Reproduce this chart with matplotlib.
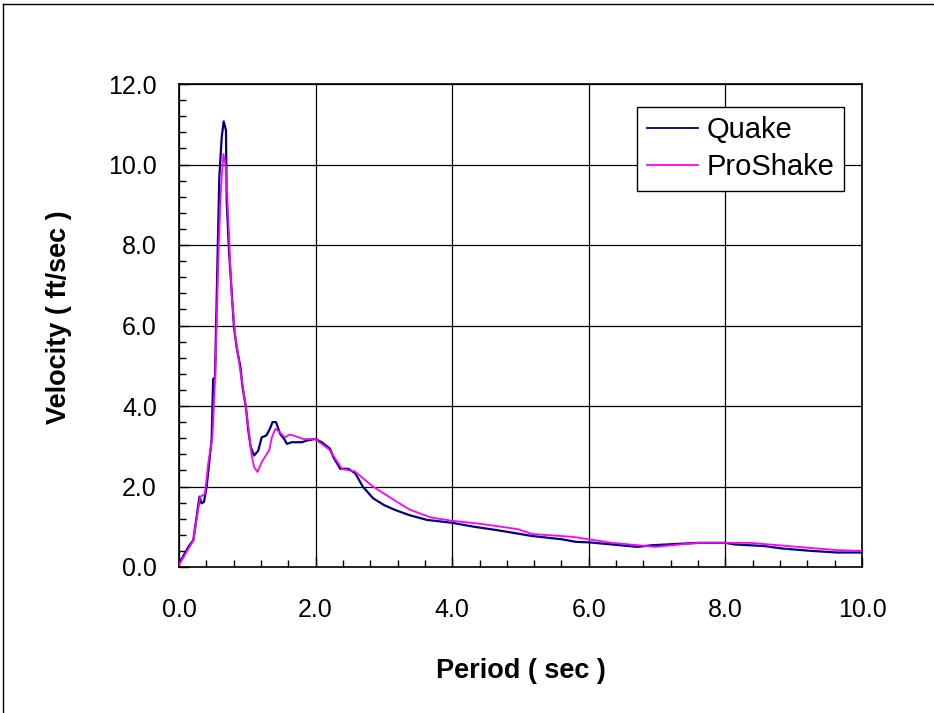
import matplotlib
matplotlib.use("Agg")
import matplotlib.pyplot as plt
from matplotlib.ticker import MultipleLocator, FormatStrFormatter
from matplotlib.lines import Line2D

plt.rcParams['font.family'] = ['Liberation Sans', 'DejaVu Sans']

quake_period = [0.0, 0.137, 0.21, 0.30, 0.33, 0.366, 0.405, 0.478, 0.50, 0.527, 0.551, 0.59, 0.625,
                0.654, 0.688, 0.698, 0.732, 0.805, 0.844, 0.90, 0.93, 0.98, 1.015, 1.05, 1.10,
                1.16, 1.21, 1.28, 1.33, 1.37, 1.42, 1.48, 1.54, 1.58, 1.65, 1.80, 1.87, 1.99,
                2.09, 2.21, 2.26, 2.36, 2.48, 2.58, 2.69, 2.84, 3.0, 3.16, 3.37, 3.63, 3.99,
                4.32, 4.64, 4.96, 5.17, 5.60, 5.81, 6.02, 6.34, 6.71, 6.92, 7.37, 7.61, 8.0,
                8.14, 8.57, 8.83, 9.26, 9.63, 10.0]
quake_vel = [0.08, 0.5, 0.67, 1.75, 1.58, 1.62, 2.0, 3.17, 4.67, 4.71, 6.62, 9.68, 10.67,
             11.07, 10.85, 9.1, 7.86, 5.96, 5.46, 4.96, 4.47, 3.97, 3.39, 2.98, 2.77,
             2.89, 3.22, 3.27, 3.43, 3.6, 3.6, 3.31, 3.18, 3.06, 3.10, 3.10, 3.14, 3.18,
             3.10, 2.94, 2.73, 2.44, 2.44, 2.33, 2.0, 1.71, 1.54, 1.42, 1.29, 1.17, 1.10,
             1.0, 0.92, 0.83, 0.77, 0.69, 0.625, 0.61, 0.56, 0.50, 0.54, 0.58, 0.60, 0.60,
             0.56, 0.52, 0.46, 0.40, 0.36, 0.36]

proshake_period = [0.0, 0.21, 0.31, 0.38, 0.43, 0.49, 0.53, 0.58, 0.615, 0.65, 0.688, 0.72,
                   0.77, 0.82, 0.89, 0.966, 1.015, 1.06, 1.10, 1.15, 1.21, 1.32, 1.36, 1.41,
                   1.45, 1.55, 1.62, 1.67, 1.82, 1.99, 2.20, 2.39, 2.57, 2.84, 3.05, 3.37,
                   3.69, 3.99, 4.43, 4.96, 5.17, 5.76, 6.34, 6.98, 7.40, 7.61, 8.36, 8.78,
                   9.20, 9.63, 10.0]
proshake_vel = [0.05, 0.66, 1.74, 1.82, 2.6, 3.23, 4.71, 7.86, 9.43, 10.26, 9.93, 8.69,
                6.78, 5.79, 4.96, 4.14, 3.47, 2.81, 2.48, 2.36, 2.6, 2.90, 3.22, 3.43,
                3.39, 3.22, 3.29, 3.27, 3.18, 3.18, 2.92, 2.43, 2.38, 2.0, 1.77, 1.43,
                1.23, 1.15, 1.07, 0.94, 0.82, 0.75, 0.60, 0.50, 0.57, 0.60, 0.60, 0.54,
                0.48, 0.42, 0.40]

x_label = "Period ( sec )"
y_label = "Velocity ( ft/sec )"

fig = plt.figure(figsize=(9.34, 7.13), dpi=100)
ax = fig.add_axes([179/934, 1-567/713, 683/934, 483/713])

ax.plot(quake_period, quake_vel, color='#000080', lw=1.6, label='Quake', zorder=3)
ax.plot(proshake_period, proshake_vel, color='#FF00FF', lw=1.3, label='ProShake', zorder=4)

ax.set_xlim(0, 10)
ax.set_ylim(0, 12)
ax.xaxis.set_major_locator(MultipleLocator(2))
ax.yaxis.set_major_locator(MultipleLocator(2))
ax.xaxis.set_minor_locator(MultipleLocator(0.4))
ax.yaxis.set_minor_locator(MultipleLocator(0.4))
ax.xaxis.set_major_formatter(FormatStrFormatter('%.1f'))
ax.yaxis.set_major_formatter(FormatStrFormatter('%.1f'))
ax.grid(True, which='major', color='black', lw=0.9)
ax.set_axisbelow(True)
ax.tick_params(which='both', direction='in', width=1, colors='black')
ax.tick_params(which='major', length=7, labelsize=18)
ax.tick_params(which='minor', length=5)
ax.tick_params(axis='x', which='major', pad=22)
ax.tick_params(axis='y', which='major', pad=16)
for s in ax.spines.values():
    s.set_linewidth(1.2)

fig.text(521/934, 1-671/713, x_label, ha='center', va='center', fontsize=19.5, fontweight='bold')
fig.text(59/934, 1-317/713, y_label, ha='center', va='center', rotation=90, fontsize=19.5, fontweight='bold')

leg = ax.legend(loc='upper right', bbox_to_anchor=(0.974, 0.953), borderaxespad=0,
                fontsize=21, frameon=True, fancybox=False, handlelength=1.75,
                handletextpad=0.3, borderpad=0.33, labelspacing=0.3)
leg.get_frame().set_edgecolor('black')
leg.get_frame().set_linewidth(1.0)
leg.get_frame().set_alpha(1)
for l in leg.get_lines():
    l.set_linewidth(1.3)

fig.add_artist(Line2D([3/934, 1], [1-4/713, 1-4/713], color='black', lw=1.0, transform=fig.transFigure))
fig.add_artist(Line2D([3/934, 3/934], [0, 1-4/713], color='black', lw=1.0, transform=fig.transFigure))

fig.savefig('out.png', dpi=100)
